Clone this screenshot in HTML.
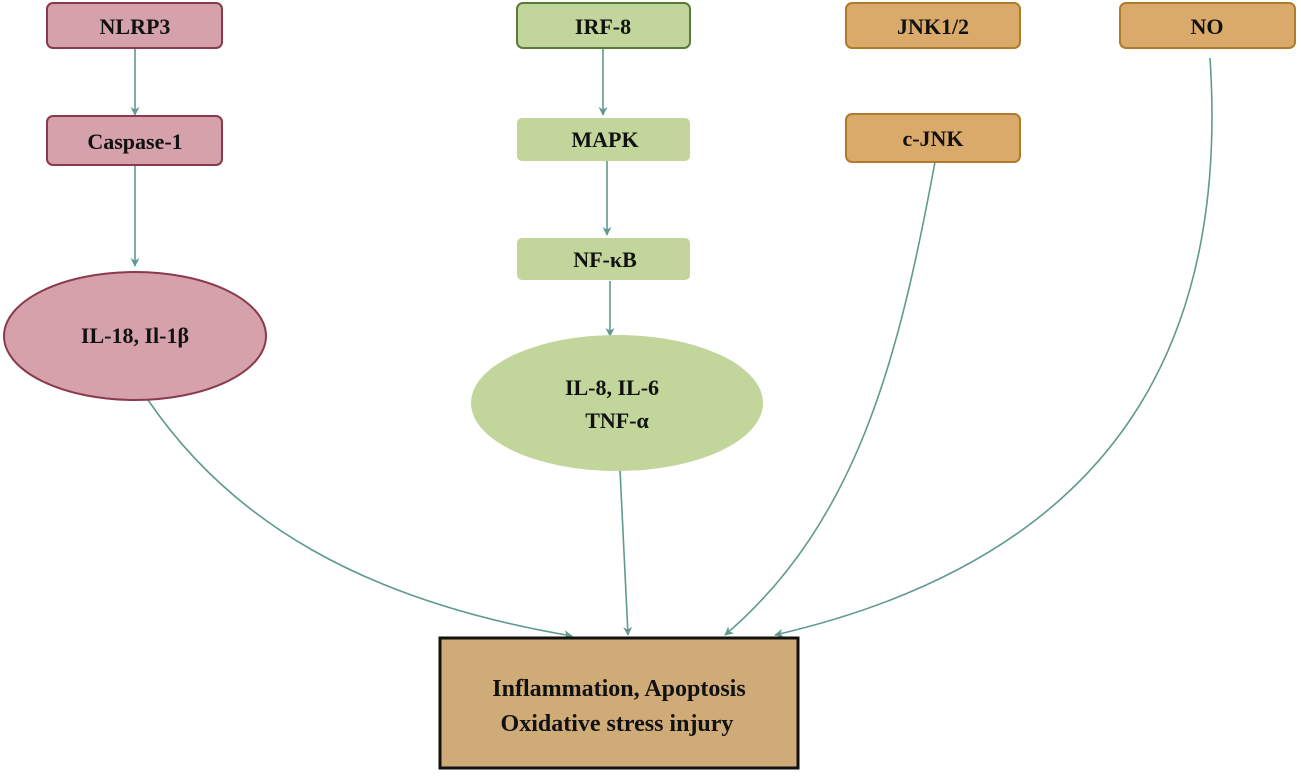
<!DOCTYPE html>
<html><head><meta charset="utf-8"><style>
html,body{margin:0;padding:0;background:#fff}
svg text{font-family:"Liberation Serif",serif;font-weight:bold;fill:#111}
</style></head><body>
<svg width="1301" height="774" viewBox="0 0 1301 774" xmlns="http://www.w3.org/2000/svg">
<defs><marker id="a" viewBox="0 0 10 10" refX="9" refY="5" markerWidth="9" markerHeight="9" markerUnits="userSpaceOnUse" orient="auto"><path d="M0,0 L10,5 L0,10 L3,5 z" fill="#5f9990"/></marker></defs>
<g stroke="#5f9990" stroke-width="1.6" fill="none" marker-end="url(#a)">
<path d="M135,48 L135,115"/>
<path d="M135,165 L135,266"/>
<path d="M603,48 L603,115"/>
<path d="M607,161 L607,235"/>
<path d="M610,281 L610,336"/>
<path d="M148,400 C230,520 360,600 572,636"/>
<path d="M620,470 L628,635"/>
<path d="M935,162 C900,350 860,520 725,635"/>
<path d="M1210,58 C1230,360 1100,560 775,635"/>
</g>
<rect x="47" y="3" width="175" height="45" rx="6" fill="#d5a1aa" stroke="#8b3a4d" stroke-width="2"/>
<text x="135" y="34" font-size="22" text-anchor="middle">NLRP3</text>
<rect x="47" y="116" width="175" height="49" rx="6" fill="#d5a1aa" stroke="#8b3a4d" stroke-width="2"/>
<text x="135" y="149" font-size="22" text-anchor="middle">Caspase-1</text>
<ellipse cx="135" cy="336" rx="131" ry="64" fill="#d5a1aa" stroke="#8b3a4d" stroke-width="2"/>
<text x="135" y="343" font-size="22" text-anchor="middle">IL-18, Il-1β</text>
<rect x="517" y="3" width="173" height="45" rx="6" fill="#c2d59b" stroke="#5a7a3a" stroke-width="2"/>
<text x="603" y="34" font-size="22" text-anchor="middle">IRF-8</text>
<rect x="517" y="118" width="173" height="43" rx="5" fill="#c2d59b"/>
<text x="605" y="147" font-size="22" text-anchor="middle">MAPK</text>
<rect x="517" y="238" width="173" height="42" rx="5" fill="#c2d59b"/>
<text x="605" y="267" font-size="22" text-anchor="middle">NF-κB</text>
<ellipse cx="617" cy="403" rx="146" ry="68" fill="#c2d59b"/>
<text x="612" y="395" font-size="22" text-anchor="middle">IL-8, IL-6</text>
<text x="617" y="428" font-size="22" text-anchor="middle">TNF-α</text>
<rect x="846" y="3" width="174" height="45" rx="6" fill="#d9aa6a" stroke="#b07c2c" stroke-width="2"/>
<text x="933" y="34" font-size="22" text-anchor="middle">JNK1/2</text>
<rect x="846" y="114" width="174" height="48" rx="6" fill="#d9aa6a" stroke="#b07c2c" stroke-width="2"/>
<text x="933" y="146" font-size="22" text-anchor="middle">c-JNK</text>
<rect x="1120" y="3" width="175" height="45" rx="6" fill="#d9aa6a" stroke="#b07c2c" stroke-width="2"/>
<text x="1207" y="34" font-size="22" text-anchor="middle">NO</text>
<rect x="440" y="638" width="358" height="130" fill="#cfab78" stroke="#111" stroke-width="3"/>
<text x="619" y="696" font-size="24" text-anchor="middle">Inflammation, Apoptosis</text>
<text x="617" y="731" font-size="24" text-anchor="middle">Oxidative stress injury</text>
</svg>
</body></html>
